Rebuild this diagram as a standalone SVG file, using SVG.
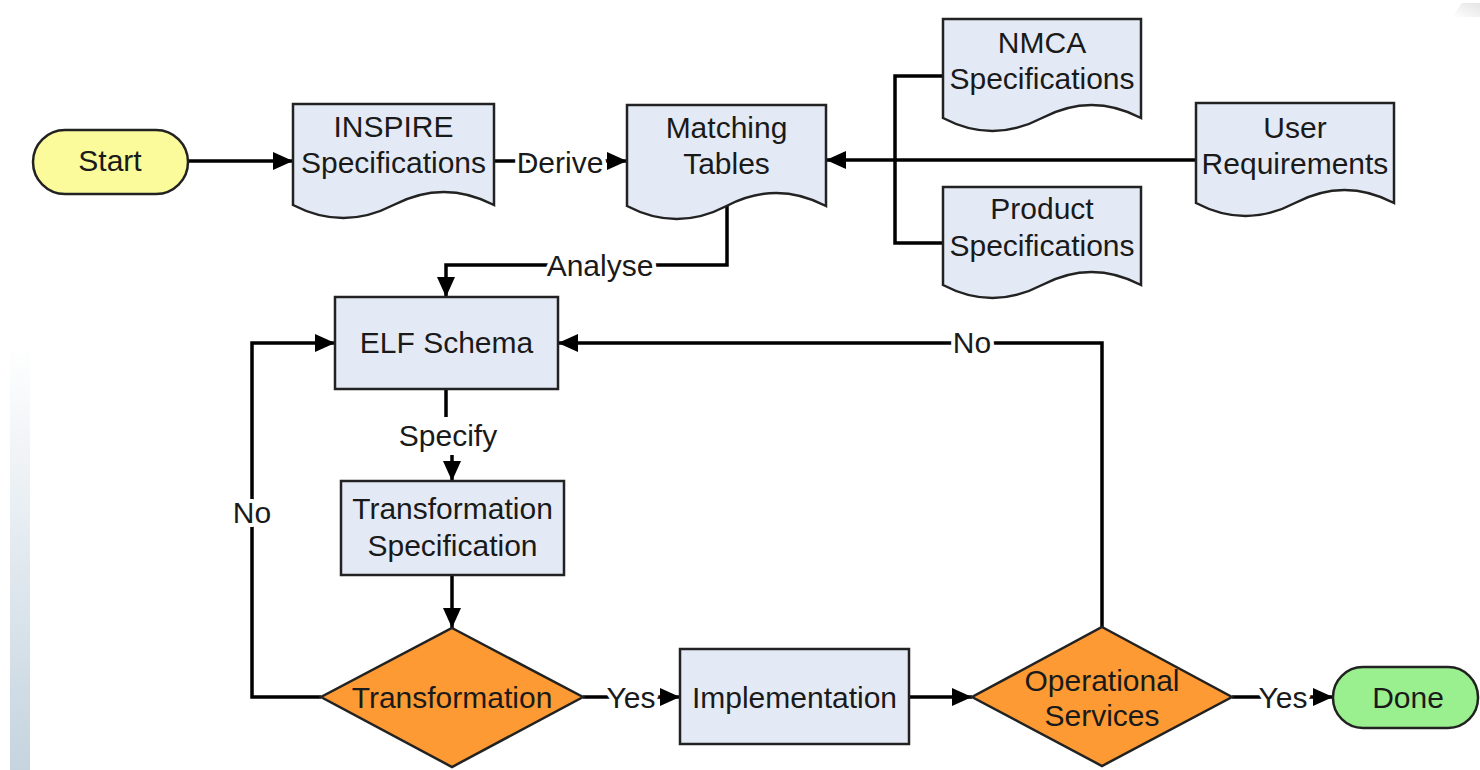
<svg xmlns="http://www.w3.org/2000/svg" width="1480" height="770" viewBox="0 0 1480 770">
<defs>
<linearGradient id="strip" x1="0" y1="0" x2="0" y2="1">
<stop offset="0" stop-color="#ffffff"/>
<stop offset="1" stop-color="#c5d4df"/>
</linearGradient>
<linearGradient id="corner" x1="0" y1="1" x2="1" y2="0">
<stop offset="0" stop-color="#ffffff"/>
<stop offset="1" stop-color="#e4e4e4"/>
</linearGradient>
<marker id="arr" markerUnits="userSpaceOnUse" markerWidth="21" markerHeight="18" refX="20" refY="9" orient="auto">
<path d="M0,0 L20,9 L0,18 z" fill="#000"/>
</marker>
<style>
text{font-family:"Liberation Sans",Arial,sans-serif;font-size:30px;fill:#1a1a1a;text-anchor:middle}
.doc,.box{fill:#e4eaf5;stroke:#222;stroke-width:2.5}
.term-y{fill:#fbfb9b;stroke:#222;stroke-width:2.5}
.term-g{fill:#9af08e;stroke:#222;stroke-width:2.5}
.dia{fill:#fd9a33;stroke:#222;stroke-width:2.5}
.con{fill:none;stroke:#000;stroke-width:3.5}
.lbl{stroke:#fff;stroke-width:8;paint-order:stroke;stroke-linejoin:round}
</style>
</defs>
<rect width="1480" height="770" fill="#fff"/>
<rect x="10" y="343" width="20" height="427" fill="url(#strip)"/>
<polygon points="1452,17 1462,3 1480,3 1480,17" fill="url(#corner)"/>

<g id="connectors">
<path class="con" d="M188,161 H293" marker-end="url(#arr)"/>
<path class="con" d="M494,161 H627" marker-end="url(#arr)"/>
<path class="con" d="M1196,160 H826" marker-end="url(#arr)"/>
<path class="con" d="M943,76 H895 V243 H943"/>
<path class="con" d="M727,206 V265 H446 V297" marker-end="url(#arr)"/>
<path class="con" d="M446,389 V417"/>
<path class="con" d="M452,455 V481" marker-end="url(#arr)"/>
<path class="con" d="M452,575 V628" marker-end="url(#arr)"/>
<path class="con" d="M321,697 H252 V343 H335" marker-end="url(#arr)"/>
<path class="con" d="M583,697 H680" marker-end="url(#arr)"/>
<path class="con" d="M909,697 H972" marker-end="url(#arr)"/>
<path class="con" d="M1102,627 V343 H558" marker-end="url(#arr)"/>
<path class="con" d="M1232,697 H1333" marker-end="url(#arr)"/>
<text class="lbl" x="560" y="173">Derive</text>
<text class="lbl" x="600" y="276">Analyse</text>
<text class="lbl" x="448" y="446">Specify</text>
<text class="lbl" x="252" y="523">No</text>
<text class="lbl" x="972" y="353">No</text>
<text class="lbl" x="631" y="708">Yes</text>
<text class="lbl" x="1283" y="708">Yes</text>
</g>

<g id="start">
<rect class="term-y" x="33" y="130" width="155" height="64" rx="32"/>
<text x="110" y="171">Start</text>
</g>

<g id="inspire">
<path class="doc" d="M293,104 H494 V205 Q443.75,179 393.5,205 T293,205 Z"/>
<text x="393.5" y="137">INSPIRE</text>
<text x="393.5" y="173">Specifications</text>
</g>

<g id="matching">
<path class="doc" d="M627,105 H826 V206 Q776.25,180 726.5,206 T627,206 Z"/>
<text x="726.5" y="138">Matching</text>
<text x="726.5" y="174">Tables</text>
</g>

<g id="nmca">
<path class="doc" d="M943,19 H1141 V118 Q1091.5,92 1042,118 T943,118 Z"/>
<text x="1042" y="53">NMCA</text>
<text x="1042" y="89">Specifications</text>
</g>

<g id="product">
<path class="doc" d="M943,187 H1141 V285 Q1091.5,259 1042,285 T943,285 Z"/>
<text x="1042" y="219">Product</text>
<text x="1042" y="256">Specifications</text>
</g>

<g id="user">
<path class="doc" d="M1196,103 H1394 V203 Q1344.5,177 1295,203 T1196,203 Z"/>
<text x="1295" y="138">User</text>
<text x="1295" y="174">Requirements</text>
</g>

<g id="elf">
<rect class="box" x="335" y="297" width="223" height="92"/>
<text x="446.5" y="353">ELF Schema</text>
</g>

<g id="transspec">
<rect class="box" x="341" y="481" width="223" height="94"/>
<text x="452.5" y="519">Transformation</text>
<text x="452.5" y="556">Specification</text>
</g>

<g id="transformation">
<polygon class="dia" points="452,628 583,697 452,767 321,697"/>
<text x="452" y="708">Transformation</text>
</g>

<g id="implementation">
<rect class="box" x="680" y="649" width="229" height="95"/>
<text x="794.5" y="708">Implementation</text>
</g>

<g id="operational">
<polygon class="dia" points="1102,627 1232,697 1102,766 972,697"/>
<text x="1102" y="691">Operational</text>
<text x="1102" y="726">Services</text>
</g>

<g id="done">
<rect class="term-g" x="1333" y="667" width="145" height="61" rx="30"/>
<text x="1408" y="708">Done</text>
</g>
</svg>
